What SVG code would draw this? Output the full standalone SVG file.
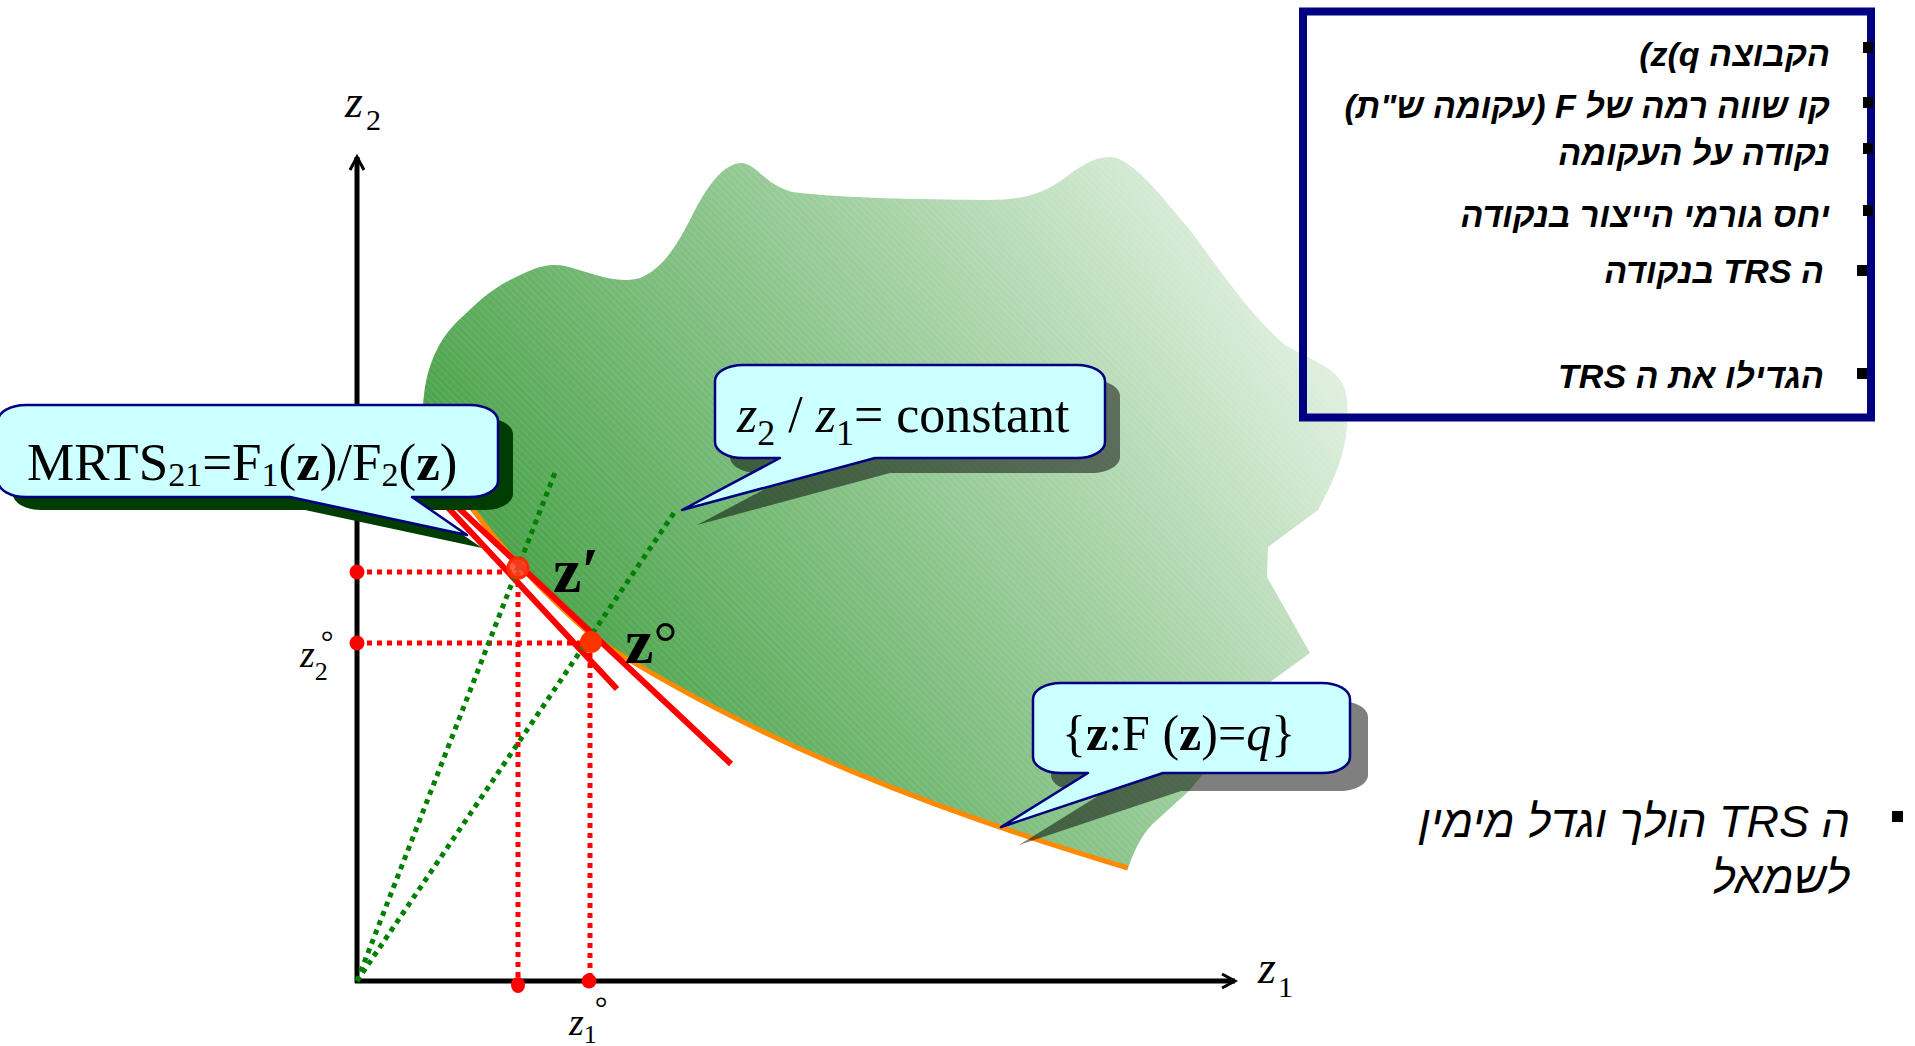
<svg xmlns="http://www.w3.org/2000/svg" width="1915" height="1046" viewBox="0 0 1915 1046">
<style>
.serif{font-family:"Liberation Serif","Times New Roman",serif;fill:#000}
.heb{font-family:"Liberation Sans","DejaVu Sans",Arial,sans-serif;font-weight:bold;font-style:italic;font-size:34px;fill:#000}
.heb2{font-family:"Liberation Sans","DejaVu Sans",Arial,sans-serif;font-style:italic;font-size:45px;fill:#000}
.axis{stroke:#000;stroke-width:5;fill:none}
.rdot{stroke:#ff0000;stroke-width:5;stroke-dasharray:5 5;fill:none}
.gdot{stroke:#008000;stroke-width:5;stroke-dasharray:5 5;fill:none}
.tan{stroke:#ff0000;stroke-width:6;fill:none}
.callout{fill:#ccffff;stroke:#000080;stroke-width:2.5;stroke-linejoin:round}
.shadow{fill:#000;fill-opacity:0.5}
.pt{fill:#ff0000}
.bullet{fill:#000}
</style>
<defs>
<linearGradient id="blobGrad" gradientUnits="userSpaceOnUse" x1="450" y1="650" x2="1250" y2="150">
<stop offset="0" stop-color="#3a9a3a"/>
<stop offset="0.5" stop-color="#8fc68f"/>
<stop offset="1" stop-color="#e8f4e8"/>
</linearGradient>
<pattern id="hatch" width="5" height="5" patternUnits="userSpaceOnUse" patternTransform="rotate(-45)">
<line x1="0" y1="0" x2="0" y2="5" stroke="#ffffff" stroke-width="1" stroke-opacity="0.22"/>
</pattern>
<marker id="arrow" markerWidth="20" markerHeight="20" viewBox="-16 -10 20 20" refX="0" refY="0" orient="auto" markerUnits="userSpaceOnUse">
<path d="M -13,-7 L 0,0 L -13,7" fill="none" stroke="#000" stroke-width="3"/>
</marker>
<path id="c1shape" d="M 26,405 H 470 C 485.5,405 498,412.2 498,421 V 481 C 498,489.8 485.5,497 470,497 H 412 L 467,535 L 290,497 H 26 C 10.5,497 -2,489.8 -2,481 V 421 C -2,412.2 10.5,405 26,405 Z"/>
<path id="c2shape" d="M 743,365 H 1077 C 1092.5,365 1105,372.2 1105,381 V 442 C 1105,450.8 1092.5,458 1077,458 H 875 L 682,510 L 780,458 H 743 C 727.5,458 715,450.8 715,442 V 381 C 715,372.2 727.5,365 743,365 Z"/>
<path id="c3shape" d="M 1061,683 H 1322 C 1337.5,683 1350,690.2 1350,699 V 757 C 1350,765.8 1337.5,773 1322,773 H 1163 L 1001,827 L 1088,773 H 1061 C 1045.5,773 1033,765.8 1033,757 V 699 C 1033,690.2 1045.5,683 1061,683 Z"/>
<path id="blobPath" d="M 445,470 C 428,440 420,420 424,395 C 428,360 442,335 461,318 C 478,302 490,290 510,280 C 530,270 545,262 565,266 C 590,272 615,285 640,278 C 665,268 680,240 695,210 C 710,182 725,163 742,163 C 758,165 765,185 792,192 C 850,199 920,199 980,200 C 1020,201 1042,194 1062,180 C 1080,166 1095,156 1112,157 C 1135,161 1160,195 1190,230 C 1220,270 1250,315 1285,345 C 1320,365 1345,370 1347,400 C 1350,440 1340,470 1318,510 L 1268,547 L 1267,577 L 1310,653 L 1270,682 L 1230,740 L 1190,790 L 1157,820 C 1145,830 1136,845 1128,868 C 950,815 760,745 596,639 C 550,600 490,540 445,470 Z"/>
</defs>

<g id="region">
<use href="#blobPath" fill="url(#blobGrad)"/>
<use href="#blobPath" fill="url(#hatch)"/>
</g>

<g id="axes">
<line class="axis" x1="357" y1="983" x2="357" y2="157" marker-end="url(#arrow)"/>
<line class="axis" x1="355" y1="981" x2="1235" y2="981" marker-end="url(#arrow)"/>
<text class="serif" x="345" y="117" font-size="46"><tspan font-style="italic">z</tspan><tspan font-size="30" dx="3" dy="13">2</tspan></text>
<text class="serif" x="1258" y="983" font-size="46"><tspan font-style="italic">z</tspan><tspan font-size="30" dx="2" dy="14">1</tspan></text>
</g>

<g id="connectors">
<line class="rdot" x1="357" y1="572" x2="518" y2="572"/>
<line class="rdot" x1="357" y1="643" x2="590" y2="643"/>
<line class="rdot" x1="518" y1="572" x2="518" y2="981"/>
<line class="rdot" x1="590" y1="643" x2="590" y2="981"/>
<path id="isoquant" d="M 445,470 C 490,540 550,600 596,639 C 760,745 950,815 1128,868" fill="none" stroke="#ff8a00" stroke-width="5"/>
<line class="tan" x1="440" y1="499" x2="617" y2="689"/>
<line class="tan" x1="448" y1="498" x2="731" y2="764"/>
<line class="gdot" x1="357" y1="981" x2="556" y2="470"/>
<line class="gdot" x1="357" y1="981" x2="674" y2="513"/>
</g>

<g id="axis-points">
<circle class="pt" cx="357" cy="572" r="7.5"/>
<circle class="pt" cx="357" cy="643" r="7.5"/>
<ellipse class="pt" cx="518" cy="985" rx="7" ry="8"/>
<circle class="pt" cx="589" cy="981" r="7.5"/>
</g>

<g id="point-zprime">
<circle cx="518" cy="568" r="10" fill="#ff4020" fill-opacity="0.85" stroke="#ff2a00" stroke-width="3"/>
<text class="serif" x="553" y="592" font-size="64" font-weight="bold">z′</text>
</g>

<g id="point-zo">
<circle cx="591" cy="642" r="11" fill="#ff3300"/>
<text class="serif" x="625" y="663" font-size="64" font-weight="bold">z<tspan font-weight="normal" font-size="60">°</tspan></text>
</g>

<g id="label-z2o">
<text class="serif" x="300" y="667" font-size="38"><tspan font-style="italic">z</tspan><tspan font-size="26" dy="13">2</tspan><tspan font-size="32" dx="-7" dy="-27">°</tspan></text>
</g>
<g id="label-z1o">
<text class="serif" x="569" y="1035" font-size="38"><tspan font-style="italic">z</tspan><tspan font-size="26" dy="8">1</tspan><tspan font-size="32" dx="-2" dy="-24">°</tspan></text>
</g>

<g id="callout-mrts">
<use href="#c1shape" transform="translate(15,13)" fill="#013d01"/>
<use href="#c1shape" class="callout"/>
<text class="serif" x="27" y="480" font-size="53">MRTS<tspan font-size="34" dy="6">21</tspan><tspan dy="-6">=F</tspan><tspan font-size="34" dy="6">1</tspan><tspan dy="-6">(</tspan><tspan font-weight="bold">z</tspan>)/F<tspan font-size="34" dy="6">2</tspan><tspan dy="-6">(</tspan><tspan font-weight="bold">z</tspan>)</text>
</g>

<g id="callout-ratio">
<use href="#c2shape" transform="translate(15,15)" class="shadow"/>
<use href="#c2shape" class="callout"/>
<text class="serif" x="737" y="432" font-size="52"><tspan font-style="italic">z</tspan><tspan font-size="36" dy="13">2</tspan><tspan dy="-13"> / </tspan><tspan font-style="italic">z</tspan><tspan font-size="36" dy="13">1</tspan><tspan dy="-13">= constant</tspan></text>
</g>

<g id="callout-set">
<use href="#c3shape" transform="translate(18,18)" class="shadow"/>
<use href="#c3shape" class="callout"/>
<text class="serif" x="1062" y="750" font-size="50">{<tspan font-weight="bold">z</tspan>:F (<tspan font-weight="bold">z</tspan>)=<tspan font-style="italic">q</tspan>}</text>
</g>

<g id="legend">
<rect x="1303" y="11.5" width="568" height="406" fill="none" stroke="#000080" stroke-width="8"/>
<rect class="bullet" x="1863" y="42" width="10" height="11"/>
<rect class="bullet" x="1863" y="97" width="10" height="11"/>
<rect class="bullet" x="1863" y="143" width="10" height="11"/>
<rect class="bullet" x="1863" y="205" width="10" height="11"/>
<rect class="bullet" x="1857" y="265" width="10" height="11"/>
<rect class="bullet" x="1857" y="368" width="10" height="11"/>
<text class="heb" x="1830" y="66" direction="rtl">הקבוצה <tspan direction="ltr" unicode-bidi="bidi-override">(z(q</tspan></text>
<text class="heb" x="1830" y="118" direction="rtl">קו שווה רמה של F (עקומה ש&quot;ת)</text>
<text class="heb" x="1830" y="165" direction="rtl">נקודה על העקומה</text>
<text class="heb" x="1830" y="227" direction="rtl">יחס גורמי הייצור בנקודה</text>
<text class="heb" x="1824" y="283" direction="rtl">ה TRS בנקודה</text>
<text class="heb" x="1824" y="388" direction="rtl">הגדילו את ה TRS</text>
</g>

<g id="note">
<rect class="bullet" x="1892" y="811" width="11" height="11"/>
<text class="heb2" x="1850" y="837" direction="rtl">ה TRS הולך וגדל מימין</text>
<text class="heb2" x="1850" y="893" direction="rtl">לשמאל</text>
</g>
</svg>
